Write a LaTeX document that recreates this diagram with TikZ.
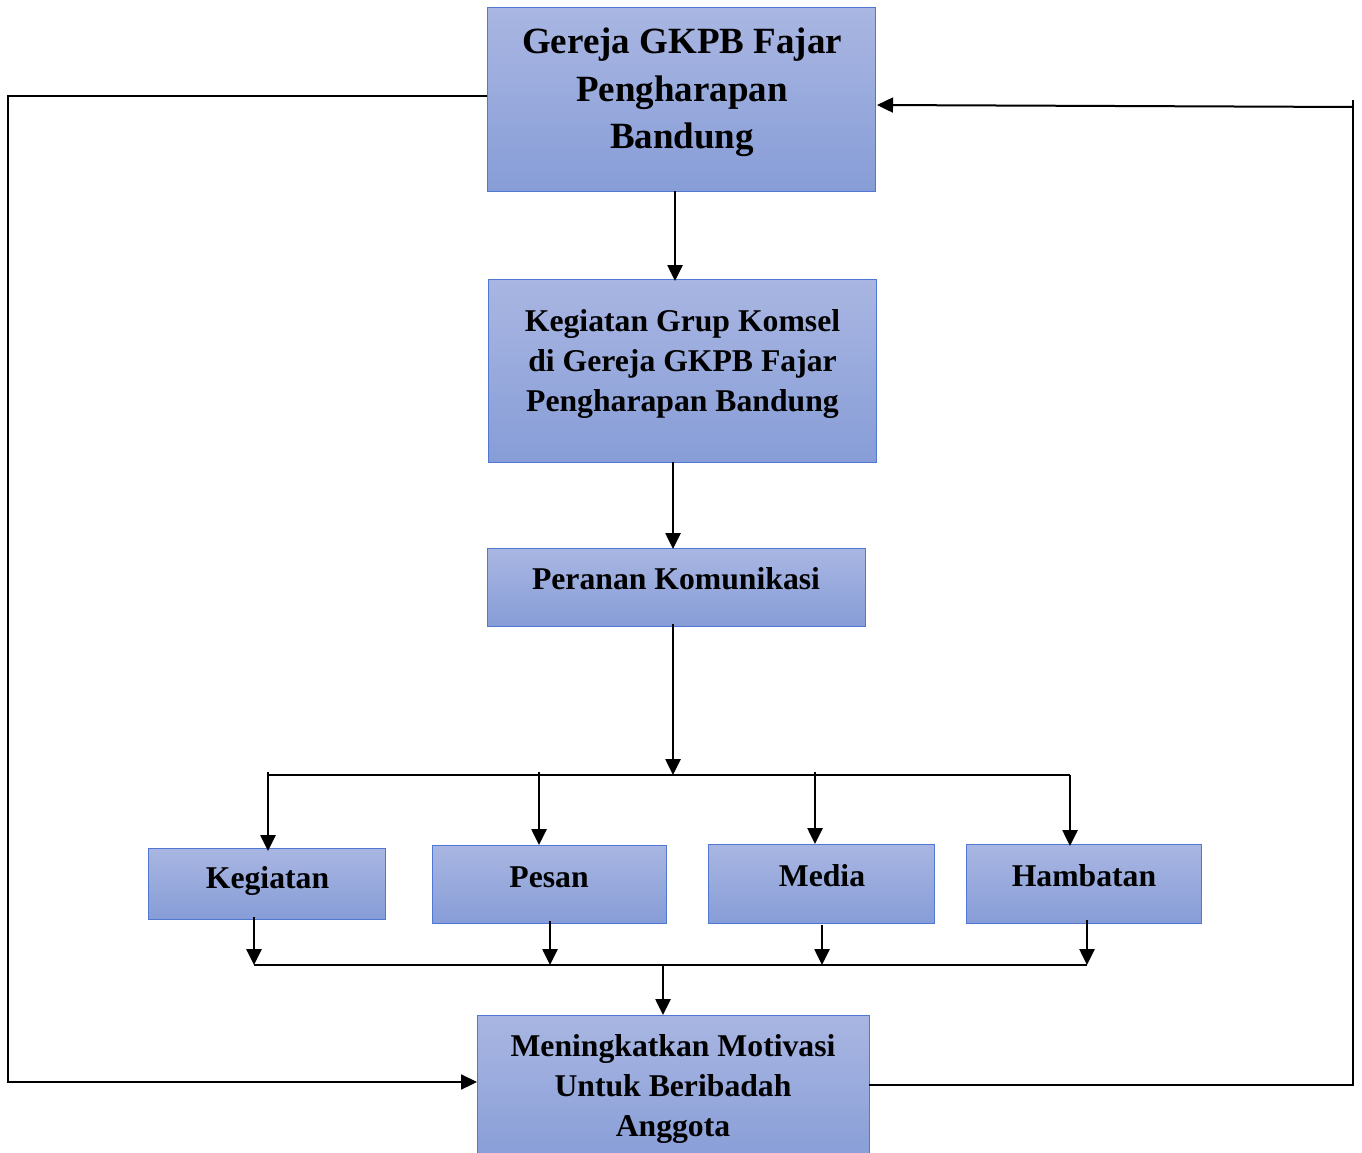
\documentclass[tikz,border=0pt]{standalone}
\usepackage{fontspec}
\setmainfont{Liberation Serif}
\usetikzlibrary{arrows.meta}
\definecolor{boxtop}{RGB}{169,182,226}
\definecolor{boxbot}{RGB}{135,157,215}
\definecolor{boxline}{RGB}{80,120,210}
\begin{document}
\begin{tikzpicture}[x=1pt,y=-1pt,
  box/.style={draw=boxline, line width=1pt, top color=boxtop, bottom color=boxbot,
    inner sep=0pt, outer sep=0pt},
  bigtxt/.style={anchor=base, align=center, inner sep=0pt, font=\bfseries\fontsize{37}{47}\selectfont},
  txt/.style={anchor=base, align=center, inner sep=0pt, font=\bfseries\fontsize{31.7}{40}\selectfont},
  arr/.style={-{Triangle[length=16pt,width=15pt]}, line width=2.6pt},
  thinl/.style={line width=1.4pt},
  thickl/.style={line width=2.6pt}]
\useasboundingbox (0,0) rectangle (1362,1153);
% boxes
\node[box, minimum width=388pt, minimum height=183pt] (top) at (681,99.5) {};
\node[box, minimum width=388pt, minimum height=183pt] (box2) at (682,370.5) {};
\node[box, minimum width=378pt, minimum height=78pt] (box3) at (676,587) {};
\node[box, minimum width=237pt, minimum height=71pt] (keg) at (266.5,883.5) {};
\node[box, minimum width=234pt, minimum height=78pt] (pes) at (549,884) {};
\node[box, minimum width=226pt, minimum height=79pt] (med) at (821,883.5) {};
\node[box, minimum width=235pt, minimum height=79pt] (ham) at (1083.5,883.5) {};
\node[box, minimum width=392pt, minimum height=150pt] (bot) at (673,1090) {};
% texts (anchor base = baseline of last line)
\node[bigtxt] (ttop) at (682,148) {Gereja GKPB Fajar\\Pengharapan\\Bandung};
\node[txt] (tbox2) at (682.5,411) {Kegiatan Grup Komsel\\di Gereja GKPB Fajar\\Pengharapan Bandung};
\node[txt] (tbox3) at (676,589) {Peranan Komunikasi};
\node[txt] (tkeg) at (267.5,888) {Kegiatan};
\node[txt] (tpes) at (549,887) {Pesan};
\node[txt] (tmed) at (822,886) {Media};
\node[txt] (tham) at (1084,886) {Hambatan};
\node[txt] (tbot) at (673,1136) {Meningkatkan Motivasi\\Untuk Beribadah\\Anggota};
% coordinates
\coordinate (busT) at (673,775);
\coordinate (busL) at (268,775);
\coordinate (busR) at (1070,775);
\coordinate (bP) at (539,775);
\coordinate (bM) at (815,775);
\coordinate (lowL) at (254,965);
\coordinate (lowR) at (1087,965);
\coordinate (lowP) at (550,965);
\coordinate (lowM) at (822,965);
\coordinate (lowC) at (663,965);
\coordinate (lc1) at (8,96);
\coordinate (lc2) at (8,1082);
\coordinate (rc1) at (1353,1085);
\coordinate (rc2) at (1353,106);
% main flow
\draw[arr] ([xshift=-6pt]top.south) -- ([xshift=-7pt,yshift=-2pt]box2.north);
\draw[arr] ([xshift=-9pt]box2.south) -- ([xshift=-3pt,yshift=-1pt]box3.north);
\draw[arr] ([xshift=-3pt,yshift=2pt]box3.south) -- (busT);
\draw[thinl] (busL) -- (busR);
\draw[arr] ([yshift=3pt]busL) -- ([yshift=-3pt]busL |- keg.north);
\draw[arr] ([yshift=3pt]bP) -- (bP |- pes.north);
\draw[arr] ([yshift=3pt]bM) -- (bM |- med.north);
\draw[arr] (busR) -- ([yshift=-2pt]busR |- ham.north);
% lower collection
\draw[arr] ([yshift=2pt]lowL |- keg.south) -- (lowL);
\draw[arr] ([yshift=2pt]lowP |- pes.south) -- (lowP);
\draw[arr] ([yshift=-2pt]lowM |- med.south) -- (lowM);
\draw[arr] ([yshift=3pt]lowR |- ham.south) -- (lowR);
\draw[thickl] (lowL) -- (lowR);
\draw[arr] (lowC) -- (lowC |- bot.north);
% feedback loops
\draw[thinl] (top.west |- lc1) -- (lc1) -- (lc2);
\draw[arr, line width=2.2pt] ([xshift=-0.7pt]lc2) -- (lc2 -| bot.west);
\draw[thinl] (bot.east |- rc1) -- (rc1) -- ([yshift=6pt]rc2);
\draw[arr, line width=2pt] ([yshift=-1pt]rc2) -- ([xshift=2pt,yshift=1pt]rc2 -| top.east);
\end{tikzpicture}
\end{document}
